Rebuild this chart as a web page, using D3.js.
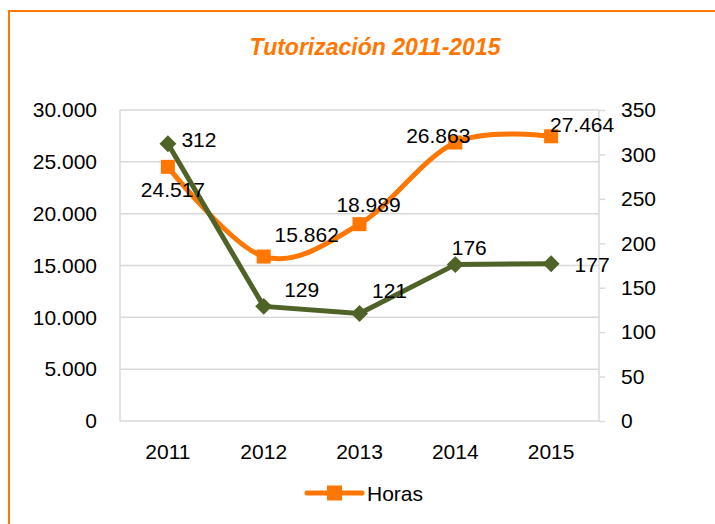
<!DOCTYPE html>
<html>
<head>
<meta charset="utf-8">
<script src="https://cdn.jsdelivr.net/npm/d3@7"></script>
<style>
  body { margin: 0; background: #fff; }
  text { font-family: "Liberation Sans", Arial, sans-serif; fill: #000; }
</style>
</head>
<body>
<svg id="chart"></svg>
<script>
// chart data
const years = ['2011', '2012', '2013', '2014', '2015'];
const horas = [24517, 15862, 18989, 26863, 27464];
const tutorizados = [312, 129, 121, 176, 177];
const leftTicks = [0, 5000, 10000, 15000, 20000, 25000, 30000];
const rightTicks = [0, 50, 100, 150, 200, 250, 300, 350];

const W = 715, H = 524;
const orange = '#ff7700', green = '#4f6228', grid = '#d9d9d9';
const margin = {top: 110, right: 116, bottom: 103, left: 120};
const fs = '21px';

let svg = d3.select('#chart').attr('width', W).attr('height', H);

// outer frame
svg.append('rect')
    .attr('x', 9).attr('y', 11)
    .attr('width', W + 20).attr('height', H + 20)
    .attr('fill', 'none')
    .attr('stroke', orange)
    .attr('stroke-width', 2);

svg.append('text')
    .attr('x', 375).attr('y', 55)
    .attr('text-anchor', 'middle')
    .style('font-size', '23px')
    .style('font-weight', 'bold')
    .style('font-style', 'italic')
    .style('fill', orange)
    .text('Tutorización 2011-2015');

const x0 = margin.left, x1 = W - margin.right;
const y0 = H - margin.bottom, y1 = margin.top;

let x = d3.scaleBand().domain(years).range([x0, x1]);
let yL = d3.scaleLinear().domain([0, 30000]).range([y0, y1]);
let yR = d3.scaleLinear().domain([0, 350]).range([y0, y1]);
const cx = d => x(d) + x.bandwidth() / 2;
const fmt = v => d3.format(',')(v).replace(/,/g, '.');

// gridlines
svg.append('g').selectAll('line').data(leftTicks).join('line')
    .attr('x1', x0).attr('x2', x1)
    .attr('y1', d => yL(d)).attr('y2', d => yL(d))
    .attr('stroke', grid).attr('stroke-width', 1.5);

// plot box sides
svg.append('line').attr('x1', x0).attr('x2', x0).attr('y1', y1).attr('y2', y0)
    .attr('stroke', grid).attr('stroke-width', 1.5);
svg.append('line').attr('x1', x1).attr('x2', x1).attr('y1', y1).attr('y2', y0)
    .attr('stroke', grid).attr('stroke-width', 1.5);

// left axis
let axL = svg.append('g').attr('transform', `translate(${x0},0)`)
    .call(d3.axisLeft(yL).tickValues(leftTicks).tickFormat(fmt).tickSize(0).tickPadding(23));
axL.select('.domain').remove();

// right axis
let axR = svg.append('g').attr('transform', `translate(${x1},0)`)
    .call(d3.axisRight(yR).tickValues(rightTicks).tickSize(6).tickPadding(16));
axR.select('.domain').remove();
axR.selectAll('line').attr('stroke', grid).attr('stroke-width', 1.5);

// x axis
let axX = svg.append('g').attr('transform', `translate(0,${y0})`)
    .call(d3.axisBottom(x).tickSize(0).tickPadding(23));
axX.select('.domain').remove();

[axL, axR, axX].forEach(a => a.selectAll('text')
    .style('font-size', fs).style('font-family', '"Liberation Sans", Arial, sans-serif').attr('fill', '#000'));

// orange series (smoothed)
svg.append('path')
    .datum(horas)
    .attr('d', d3.line().x((d, i) => cx(years[i])).y(d => yL(d)).curve(d3.curveCardinal))
    .attr('fill', 'none').attr('stroke', orange).attr('stroke-width', 5)
    .attr('stroke-linecap', 'round');

// green series
svg.append('path')
    .datum(tutorizados)
    .attr('d', d3.line().x((d, i) => cx(years[i])).y(d => yR(d)))
    .attr('fill', 'none').attr('stroke', green).attr('stroke-width', 5)
    .attr('stroke-linejoin', 'round');

svg.append('g').selectAll('rect').data(horas).join('rect')
    .attr('x', (d, i) => cx(years[i]) - 7).attr('y', d => yL(d) - 7)
    .attr('width', 14).attr('height', 14).attr('fill', orange);

svg.append('g').selectAll('path').data(tutorizados).join('path')
    .attr('transform', (d, i) => `translate(${cx(years[i])},${yR(d)}) rotate(45)`)
    .attr('d', 'M-6,-6H6V6H-6Z').attr('fill', green);

// data labels (offsets from each point to label centre/baseline)
const horasOff = [[5, 30], [43, -15], [9, -12], [-17, 0], [31, -4]];
const tutOff = [[31, 3], [38, -9], [30, -15], [14, -10], [41, 8]];

svg.append('g').selectAll('text').data(horas).join('text')
    .attr('x', (d, i) => cx(years[i]) + horasOff[i][0])
    .attr('y', (d, i) => yL(d) + horasOff[i][1])
    .attr('text-anchor', 'middle').style('font-size', fs)
    .text(fmt);

svg.append('g').selectAll('text').data(tutorizados).join('text')
    .attr('x', (d, i) => cx(years[i]) + tutOff[i][0])
    .attr('y', (d, i) => yR(d) + tutOff[i][1])
    .attr('text-anchor', 'middle').style('font-size', fs)
    .text(d => d);

// legend
let lg = svg.append('g').attr('transform', 'translate(307,493)');
lg.append('line').attr('x1', 0).attr('x2', 55).attr('stroke', orange)
    .attr('stroke-width', 5).attr('stroke-linecap', 'round');
lg.append('rect').attr('x', 20).attr('y', -7.5).attr('width', 15).attr('height', 15).attr('fill', orange);
lg.append('text').attr('x', 60).attr('y', 8).style('font-size', fs).text('Horas');
</script>
</body>
</html>
